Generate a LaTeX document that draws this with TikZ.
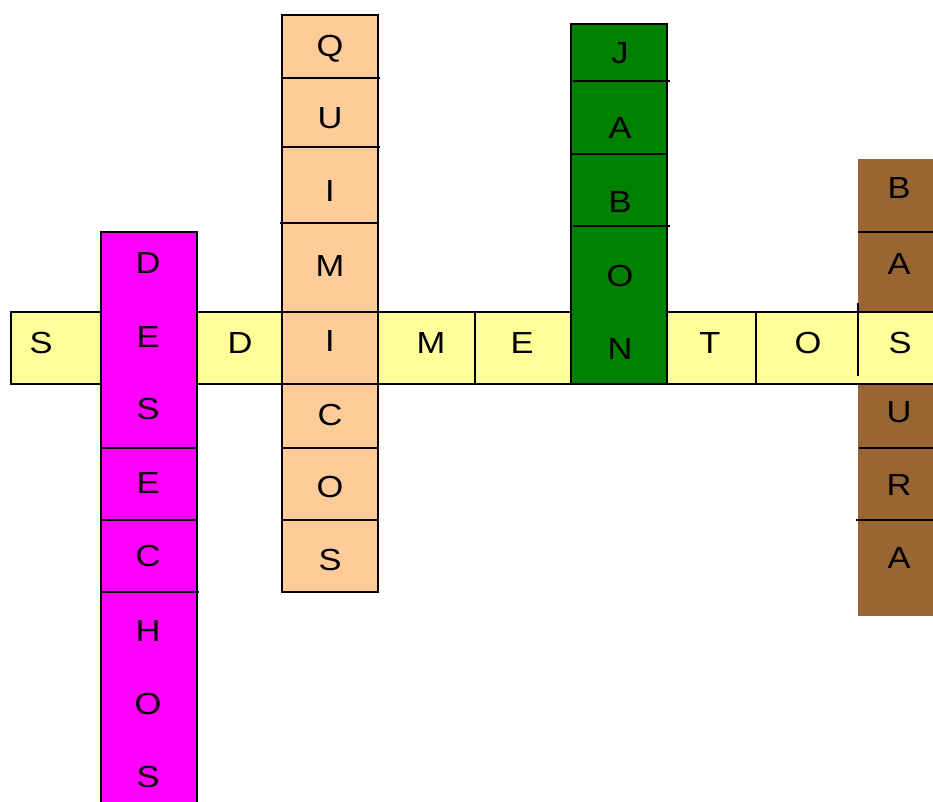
\documentclass[tikz,border=0pt]{standalone}
\usepackage{fontspec}
\setmainfont{Liberation Sans}
\newfontfamily\cellfont[FakeStretch=1.13]{Liberation Sans}
\definecolor{sedYellow}{HTML}{FFFF99}
\definecolor{desMagenta}{HTML}{FF00FF}
\definecolor{quiPeach}{HTML}{FFCC99}
\definecolor{jabGreen}{HTML}{008000}
\definecolor{basBrown}{HTML}{996633}
\begin{document}
\begin{tikzpicture}[x=1pt, y=-1pt, line join=miter,
    cellline/.style={line width=1.3pt},
    letter/.style={inner sep=0pt, text height=22pt, text depth=0pt,
      font=\cellfont\fontsize{30.5}{30.5}\selectfont}]
  \useasboundingbox (0,0) rectangle (933,802);
  \clip (0,0) rectangle (933,802);
  % columns and bar
  \fill[basBrown] (858,159) rectangle (945,616);
  \draw[cellline, fill=sedYellow] (11,312) rectangle (945,384);
  \draw[cellline] (475,312) -- (475,384);
  \draw[cellline] (756,312) -- (756,384);
  \draw[cellline] (858,303) -- (858,376);
  \draw[cellline, fill=desMagenta] (101,232) rectangle (197,815);
  \draw[cellline] (101,448) -- (197,448);
  \draw[cellline] (101,520) -- (197,520);
  \draw[cellline] (101,592) -- (199,592);
  \draw[cellline, fill=quiPeach] (282,15) rectangle (378,592);
  \draw[cellline] (282,78) -- (380,78);
  \draw[cellline] (282,147) -- (380,147);
  \draw[cellline] (280,223) -- (378,223);
  \draw[cellline] (282,312) -- (378,312);
  \draw[cellline] (282,384) -- (378,384);
  \draw[cellline] (282,448) -- (378,448);
  \draw[cellline] (282,520) -- (378,520);
  \draw[cellline, fill=jabGreen] (571,24) rectangle (667,384);
  \draw[cellline] (573,81) -- (670,81);
  \draw[cellline] (571,154) -- (667,154);
  \draw[cellline] (573,226) -- (670,226);
  \draw[cellline] (858,232) -- (945,232);
  \draw[cellline] (859,448) -- (945,448);
  \draw[cellline] (856,520) -- (945,520);
  % SEDIMENTOS
  \node[letter] (s1) at (41,342) {S};
  \node[letter] (d2) at (240,342) {D};
  \node[letter] (m5) at (431,342) {M};
  \node[letter] (e6) at (522,342) {E};
  \node[letter] (t8) at (710,342) {T};
  \node[letter] (o9) at (808,342) {O};
  % DESECHOS
  \node[letter] (de1) at (148,262) {D};
  \node[letter] (de2) at (148,336) {E};
  \node[letter] (de3) at (148,408) {S};
  \node[letter] (de4) at (148,482) {E};
  \node[letter] (de5) at (148,555) {C};
  \node[letter] (de6) at (148,630) {H};
  \node[letter] (de7) at (148,703) {O};
  \node[letter] (de8) at (148,776) {S};
  % QUIMICOS
  \node[letter] (qu1) at (330,46) {Q};
  \node[letter] (qu2) at (330,118) {U};
  \node[letter] (qu3) at (330,191) {I};
  \node[letter] (qu4) at (330,265) {M};
  \node[letter] (qu5) at (330,340) {I};
  \node[letter] (qu6) at (330,414) {C};
  \node[letter] (qu7) at (330,486) {O};
  \node[letter] (qu8) at (330,559) {S};
  % JABON
  \node[letter] (ja1) at (620,53) {J};
  \node[letter] (ja2) at (620,128) {A};
  \node[letter] (ja3) at (620,201) {B};
  \node[letter] (ja4) at (620,275) {O};
  \node[letter] (ja5) at (620,348) {N};
  % BASURA
  \node[letter] (ba1) at (899,188) {B};
  \node[letter] (ba2) at (899,263) {A};
  \node[letter] (ba3) at (900,342) {S};
  \node[letter] (ba4) at (899,411) {U};
  \node[letter] (ba5) at (899,484) {R};
  \node[letter] (ba6) at (899,557) {A};
\end{tikzpicture}
\end{document}
